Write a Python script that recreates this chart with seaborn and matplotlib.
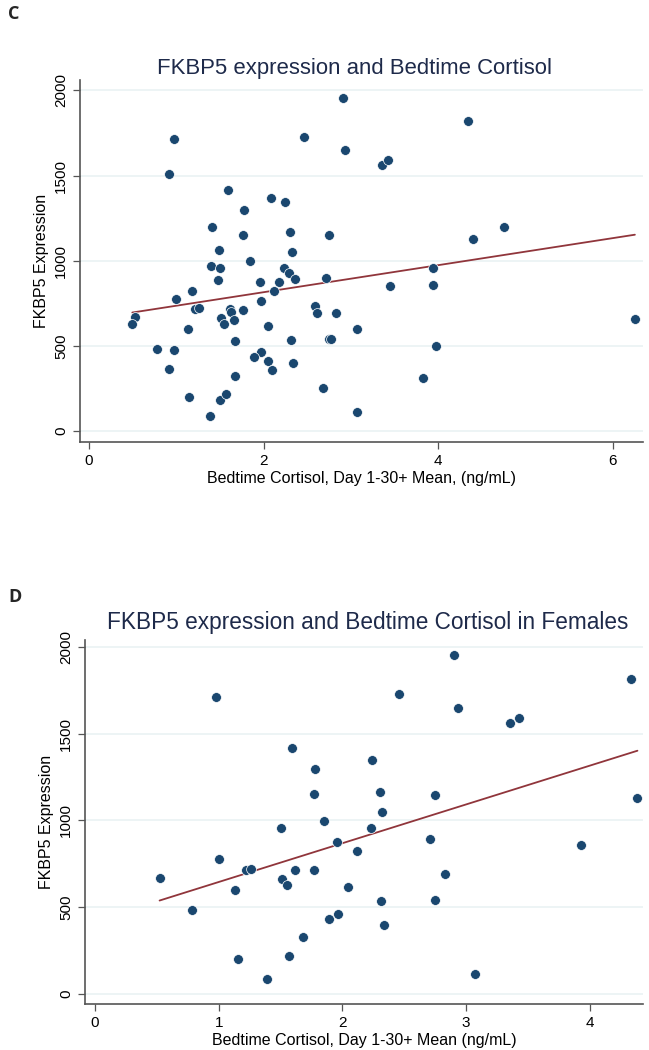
import matplotlib
matplotlib.use("Agg")
import matplotlib.pyplot as plt
import seaborn as sns
import pandas as pd

# ---- Panel C data (all subjects) ----
cort_all = [2.906, 0.974, 2.459, 2.936, 0.913, 1.589, 2.081, 2.245, 1.772, 1.409,
            1.764, 2.306, 2.753, 1.486, 2.321, 1.848, 1.401, 1.504, 1.478, 1.959,
            2.234, 2.295, 2.363, 2.173, 2.711, 2.119, 0.997, 1.180, 1.974, 1.218,
            1.256, 1.615, 1.627, 1.768, 2.589, 2.612, 2.833, 3.066, 0.523, 0.496,
            1.512, 1.550, 1.657, 1.130, 2.047, 1.669, 2.310, 2.753, 2.772, 0.783,
            0.977, 0.916, 1.966, 1.886, 2.047, 2.092, 2.333, 1.676, 1.149, 1.501,
            1.569, 1.386, 2.684, 3.066, 4.341, 3.356, 3.429, 4.757, 4.395, 3.937,
            3.448, 3.937, 6.251, 3.975, 3.826]
fkbp_all = [1957, 1715, 1728, 1650, 1511, 1415, 1368, 1347, 1296, 1198,
            1153, 1169, 1149, 1063, 1053, 1000, 971, 957, 885, 877,
            959, 930, 891, 873, 897, 824, 777, 822, 763, 716,
            720, 718, 701, 712, 736, 691, 693, 601, 671, 630,
            662, 626, 654, 601, 617, 527, 536, 540, 538, 483,
            476, 364, 464, 433, 411, 356, 399, 325, 201, 184,
            217, 86, 254, 113, 1820, 1562, 1591, 1200, 1129, 959,
            851, 859, 656, 497, 311]

# ---- Panel D data (females) ----
cort_fem = [0.975, 1.592, 1.775, 1.767, 1.851, 1.505, 1.958, 2.118, 0.522, 1.004,
            1.134, 1.218, 1.263, 1.513, 1.552, 1.619, 1.772, 2.047, 0.786, 1.964,
            1.889, 1.681, 1.570, 1.156, 1.392, 2.903, 2.459, 2.935, 4.337, 3.356,
            3.424, 2.243, 2.305, 2.750, 2.324, 2.230, 4.385, 2.707, 3.930, 2.831,
            2.311, 2.750, 2.333, 3.068]
fkbp_fem = [1712, 1415, 1297, 1151, 999, 955, 876, 823, 671, 777,
            602, 717, 723, 663, 627, 715, 713, 617, 485, 462,
            431, 326, 220, 203, 86, 1954, 1726, 1647, 1818, 1561,
            1588, 1346, 1166, 1148, 1051, 959, 1129, 893, 859, 694,
            537, 541, 400, 117]

titles = ["FKBP5 expression and Bedtime Cortisol",
          "FKBP5 expression and Bedtime Cortisol in Females"]
xlabels = ["Bedtime Cortisol, Day 1-30+ Mean, (ng/mL)",
           "Bedtime Cortisol, Day 1-30+ Mean (ng/mL)"]
ylabel = "FKBP5 Expression"
panel_letters = ["C", "D"]
xticks_c = [0, 2, 4, 6]
xticks_d = [0, 1, 2, 3, 4]
yticks = [0, 500, 1000, 1500, 2000]

df_c = pd.DataFrame({"x": cort_all, "y": fkbp_all})
df_d = pd.DataFrame({"x": cort_fem, "y": fkbp_fem})

sns.set_theme(style="white")
plt.rcParams['font.family'] = ['Liberation Sans', 'DejaVu Sans']

W, H = 649, 1050
fig = plt.figure(figsize=(W / 100, H / 100), dpi=100)

MARK = "#1a476f"
LINE = "#90353b"
GRID = "#eaf2f3"
TITLE = "#1e2a4a"


def px_axes(l, t, r, b):
    return fig.add_axes([l / W, 1 - b / H, (r - l) / W, (b - t) / H])


def style(ax, df, xt, xlim, ylim, title, xlabel, tpad, tx, tsize):
    sns.scatterplot(data=df, x="x", y="y", ax=ax, color=MARK, s=50,
                    edgecolor="white", linewidth=0.5, zorder=3)
    sns.regplot(data=df, x="x", y="y", ax=ax, ci=None, scatter=False,
                truncate=True, line_kws={"color": LINE, "lw": 1.3, "zorder": 2})
    ax.set_xlim(*xlim)
    ax.set_ylim(*ylim)
    ax.set_xticks(xt)
    ax.set_yticks(yticks)
    ax.set_yticklabels([str(v) for v in yticks], rotation=90, va="center")
    ax.grid(axis="y", color=GRID, lw=1.2, zorder=0)
    ax.grid(axis="x", visible=False)
    for s in ["top", "right"]:
        ax.spines[s].set_visible(False)
    for s in ["left", "bottom"]:
        ax.spines[s].set_color("#555555")
        ax.spines[s].set_linewidth(1.2)
    ax.tick_params(axis="both", which="major", direction="out", length=5,
                   width=0.9, color="#555555", labelsize=11, labelcolor="black",
                   bottom=True, left=True)
    ax.set_xlabel(xlabel, fontsize=11.5, color="black", labelpad=2)
    ax.set_ylabel(ylabel, fontsize=11.5, color="black", labelpad=4)
    ax.set_title(title, fontsize=tsize, color=TITLE, pad=tpad, x=tx)


ax1 = px_axes(80, 80, 643, 442)
style(ax1, df_c, xticks_c, (-0.103, 6.344), (-65, 2061), titles[0], xlabels[0],
      4, 0.488, 15.9)

ax2 = px_axes(85, 640, 643, 1004)
style(ax2, df_d, xticks_d, (-0.081, 4.43), (-57.5, 2040), titles[1], xlabels[1],
      8, 0.507, 16.3)

fig.text(8 / W, 1 - 14 / H, panel_letters[0], fontsize=13, fontweight="bold",
         family=["Open Sans", "DejaVu Sans"], va="center", ha="left")
fig.text(8 / W, 1 - 597 / H, panel_letters[1], fontsize=13, fontweight="bold",
         family=["Open Sans", "DejaVu Sans"], va="center", ha="left")

fig.savefig("out.png", dpi=100, facecolor="white")
